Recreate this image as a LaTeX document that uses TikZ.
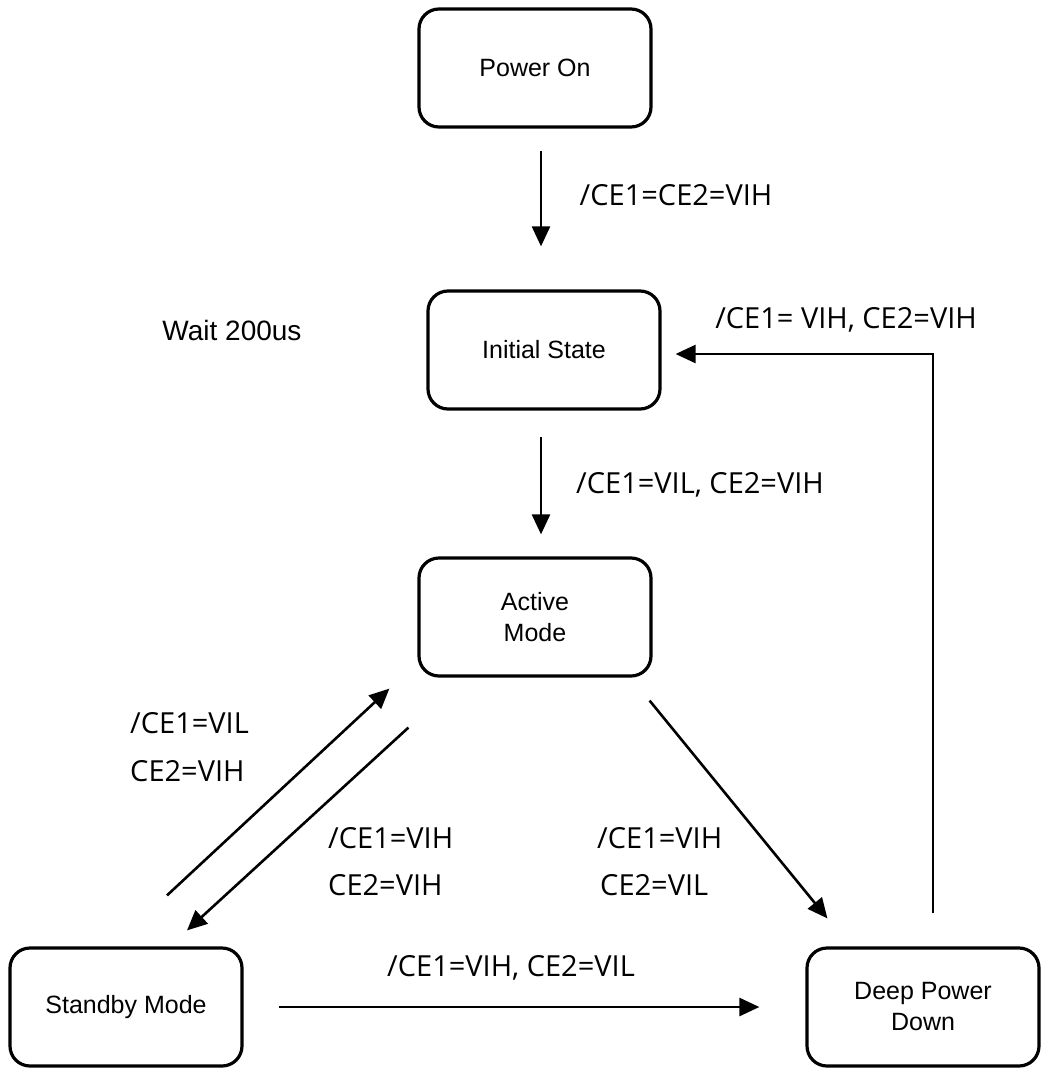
\documentclass[tikz,border=0pt]{standalone}
\usepackage{fontspec}
\setmainfont{Liberation Sans}
\newfontfamily\lblfont{Open Sans}
\usetikzlibrary{arrows.meta,calc}
\begin{document}
\begin{tikzpicture}[x=1pt,y=-1pt,
  state/.style={draw,line width=3.2pt,rounded corners=20pt,minimum width=232pt,minimum height=118pt,align=center,font=\fontsize{25}{31}\selectfont},
  arr/.style={line width=2.6pt,-{Triangle[length=20pt,width=18pt]}},
  lbl/.style={font=\lblfont\fontsize{29}{34}\selectfont,inner sep=0pt},
  plain/.style={font=\fontsize{28}{33}\selectfont,inner sep=0pt}]
\useasboundingbox (0,0) rectangle (1049,1068);
\node[state] (po) at (535,68) {Power On};
\node[state] (is) at (544,350) {Initial State};
\node[state] (am) at (535,617) {Active\\Mode};
\node[state] (sb) at (126,1007) {Standby Mode};
\node[state] (dp) at (923,1007) {Deep Power\\Down};
\draw[arr] ($(po.south)+(6,22)$) -- ($(is.north)+(-3,-43)$);
\draw[arr] ($(is.south)+(-3,26)$) -- ($(am.north)+(6,-22)$);
\draw[arr] ($(dp.north)+(10,-33)$) |- ($(is.east)+(14,4)$);
\draw[arr] ($(sb.north)+(41,-51)$) -- ($(am.south west)+(-28,11)$);
\draw[arr] ($(am.south west)+(-9,50)$) -- ($(sb.north)+(61,-16)$);
\draw[arr] ($(am.south east)+(-3,23)$) -- ($(dp.north west)+(22,-28)$);
\draw[arr] ($(sb.east)+(35,0)$) -- ($(dp.west)+(-46,0)$);
\node[lbl] (l1) at (676,195) {/CE1=CE2=VIH};
\node[plain] (w) at (232,330) {Wait 200us};
\node[lbl] (l2) at (846,320) {/CE1= VIH, CE2=VIH};
\node[lbl] (l3) at (700,485) {/CE1=VIL, CE2=VIH};
\node[lbl,anchor=west] (l4) at (130,723) {/CE1=VIL};
\node[lbl,anchor=west] (l5) at (130,771) {CE2=VIH};
\node[lbl,anchor=west] (l6) at (328,838) {/CE1=VIH};
\node[lbl,anchor=west] (l7) at (328,885) {CE2=VIH};
\node[lbl,anchor=west] (l8) at (597,838) {/CE1=VIH};
\node[lbl,anchor=west] (l9) at (600,885) {CE2=VIL};
\node[lbl] (l10) at (511,968) {/CE1=VIH, CE2=VIL};
\end{tikzpicture}
\end{document}
